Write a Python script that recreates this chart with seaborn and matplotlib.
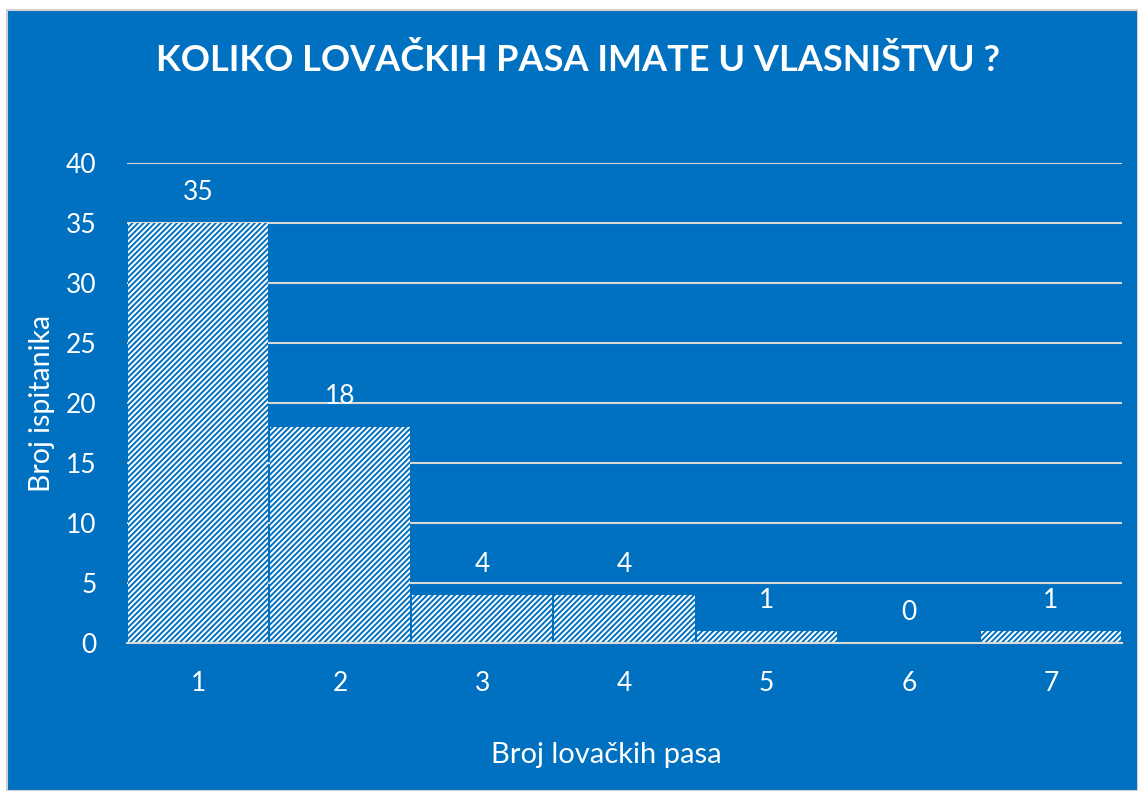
import matplotlib
matplotlib.use("Agg")
import matplotlib.pyplot as plt
import seaborn as sns
import pandas as pd
from matplotlib.patches import Rectangle

categories = ["1", "2", "3", "4", "5", "6", "7"]
values = [35, 18, 4, 4, 1, 0, 1]
yticks = [0, 5, 10, 15, 20, 25, 30, 35, 40]

title = "KOLIKO LOVAČKIH PASA IMATE U VLASNIŠTVU ?"
xlabel = "Broj lovačkih pasa"
ylabel = "Broj ispitanika"

BLUE = "#0070C0"
GRID = "#D9D9D9"

sns.set_theme(style="white")
plt.rcParams["font.family"] = ["Lato", "DejaVu Sans"]
plt.rcParams["hatch.color"] = BLUE
plt.rcParams["hatch.linewidth"] = 1.4

fig = plt.figure(figsize=(11.38, 7.91), dpi=100, facecolor="white")
W, H = 1138, 791
fig.patches.append(Rectangle((7 / W, 0), 1 - 7 / W, 1 - 10 / H, transform=fig.transFigure,
                             facecolor=BLUE, edgecolor="#D0D0D0", linewidth=1.5, zorder=-10))

ax = fig.add_axes([127 / W, 1 - 643 / H, (1122 - 127) / W, (643 - 163) / H])
ax.set_zorder(2)
ax.set_facecolor("none")

df = pd.DataFrame({"cat": categories, "val": values})
sns.barplot(data=df, x="cat", y="val", ax=ax, color="white", width=0.985,
            saturation=1, linewidth=0, zorder=3)
for p in ax.patches:
    p.set_hatch("//////")
    p.set_facecolor("white")
    p.set_edgecolor(BLUE)
    p.set_linewidth(0)

ax.bar_label(ax.containers[0], labels=[str(v) for v in values], padding=13,
             color="white", fontsize=19)

ax.set_xlim(-0.5, 6.5)
ax.set_ylim(0, 40)
ax.set_yticks(yticks)
ax.yaxis.grid(True, color=GRID, linewidth=1.5, zorder=0)
ax.set_axisbelow(True)
for s in ["top", "right", "left"]:
    ax.spines[s].set_visible(False)
ax.spines["bottom"].set_color(GRID)
ax.spines["bottom"].set_linewidth(1.5)
ax.spines["bottom"].set_zorder(4)
ax.tick_params(axis="both", colors="white", labelsize=19, length=0)
ax.tick_params(axis="y", pad=22)
ax.tick_params(axis="x", pad=20)

ax.set_xlabel(xlabel, color="white", fontsize=21, labelpad=33)
ax.xaxis.label.set_x((606 - 127) / 995)
ax.set_ylabel(ylabel, color="white", fontsize=20.5, labelpad=8)

fig.text(0.508, 1 - 60 / H, title, color="white", fontsize=26, fontweight="bold",
         ha="center", va="center")

fig.savefig("out.png", dpi=100, facecolor=fig.get_facecolor())
